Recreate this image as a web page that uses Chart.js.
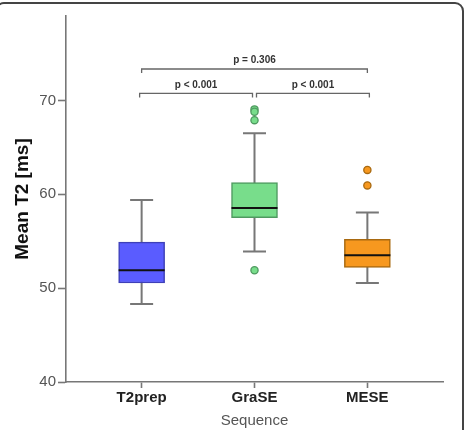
<!DOCTYPE html>
<html>
<head>
<meta charset="utf-8">
<script src="https://cdn.jsdelivr.net/npm/chart.js@4"></script>
<style>
  body { margin: 0; background: #fff; }
  #wrap { position: relative; width: 467px; height: 430px; overflow: hidden; }
  #frame { position: absolute; left: -5px; top: 2px; width: 465px; height: 500px;
           border: 2px solid #444; border-radius: 9px; pointer-events: none; }
  canvas { position: absolute; left: 0; top: 0; }
</style>
</head>
<body>
<div id="wrap">
  <div id="frame"></div>
  <canvas id="boxChart" width="467" height="430"></canvas>
</div>
<script>
// Box plot values
const categories = ['T2prep', 'GraSE', 'MESE'];
const whiskerLow = [48.3, 53.9, 50.55];
const quartile1 = [50.55, 57.5, 52.2];
const medians = [51.9, 58.55, 53.5];
const quartile3 = [54.9, 61.25, 55.2];
const whiskerHigh = [59.4, 66.5, 58.05];
const outliers = [
    [],
    [69.05, 68.8, 67.9, 51.9],
    [62.6, 60.95]
];
const yTicks = [40, 50, 60, 70];

// significance brackets (category index pairs)
const bracketPairs = [[0, 1], [1, 2], [0, 2]];
const bracketLevels = [70.75, 70.75, 73.35];
const bracketLabels = ['p < 0.001', 'p < 0.001', 'p = 0.306'];

const fills = ['#5a5cff', '#78dd8b', '#f7981f'];
const edges = ['#3e40b8', '#4f9a60', '#a86910'];
const FONT = "'Liberation Sans', Arial, sans-serif";

// whiskers + caps go under the boxes, medians on top
const boxParts = {
    id: 'boxParts',
    beforeDatasetsDraw(chart) {
        const {ctx, scales: {x, y}} = chart;
        ctx.save();
        ctx.strokeStyle = '#777';
        ctx.lineWidth = 2;
        categories.forEach((c, i) => {
            const px = x.getPixelForValue(i + 1);
            ctx.beginPath();
            ctx.moveTo(px, y.getPixelForValue(whiskerLow[i]));
            ctx.lineTo(px, y.getPixelForValue(whiskerHigh[i]));
            [whiskerLow[i], whiskerHigh[i]].forEach(v => {
                const py = y.getPixelForValue(v);
                ctx.moveTo(px - 11.5, py);
                ctx.lineTo(px + 11.5, py);
            });
            ctx.stroke();
        });
        ctx.restore();
    },
    afterDatasetDraw(chart, args) {
        if (args.index !== 0) return;
        const {ctx, scales: {x, y}} = chart;
        ctx.save();
        ctx.strokeStyle = '#111';
        ctx.lineWidth = 2;
        categories.forEach((c, i) => {
            const px = x.getPixelForValue(i + 1);
            const py = y.getPixelForValue(medians[i]);
            ctx.beginPath();
            ctx.moveTo(px - 23, py);
            ctx.lineTo(px + 23, py);
            ctx.stroke();
        });
        ctx.restore();
    }
};

const brackets = {
    id: 'brackets',
    afterDraw(chart) {
        const {ctx, scales: {x, y}} = chart;
        ctx.save();
        ctx.strokeStyle = '#666';
        ctx.lineWidth = 1.3;
        ctx.fillStyle = '#333';
        ctx.font = 'bold 10px ' + FONT;
        ctx.textAlign = 'center';
        ctx.textBaseline = 'middle';
        bracketPairs.forEach((pair, k) => {
            let x0 = x.getPixelForValue(pair[0] + 1);
            let x1 = x.getPixelForValue(pair[1] + 1);
            // adjacent brackets leave a small gap at the middle box
            if (pair[1] - pair[0] === 1) {
                x0 += pair[0] === 0 ? -2 : 2;
                x1 += pair[0] === 0 ? -2 : 2;
            }
            const py = y.getPixelForValue(bracketLevels[k]);
            ctx.beginPath();
            ctx.moveTo(x0, py + 4);
            ctx.lineTo(x0, py);
            ctx.lineTo(x1, py);
            ctx.lineTo(x1, py + 4);
            ctx.stroke();
            ctx.fillText(bracketLabels[k], (x0 + x1) / 2, py - 8.5);
        });
        ctx.restore();
    }
};

const outlierSets = outliers.map((vals, i) => ({
    type: 'scatter',
    data: vals.map(v => ({x: i + 1, y: v})),
    backgroundColor: fills[i],
    borderColor: edges[i],
    borderWidth: 1.3,
    pointRadius: 3.6,
    order: 0
}));

const ctx = document.getElementById('boxChart').getContext('2d');
const boxChart = new Chart(ctx, {
    type: 'bar',
    data: {
        datasets: [
            {
                type: 'bar',
                data: categories.map((c, i) => ({x: i + 1, y: [quartile1[i], quartile3[i]]})),
                backgroundColor: fills,
                borderColor: edges,
                borderWidth: 1.5,
                borderSkipped: false,
                barThickness: 46,
                order: 1
            },
            ...outlierSets
        ]
    },
    options: {
        responsive: false,
        animation: false,
        layout: {padding: {left: 0, top: 16, right: 24, bottom: 0}},
        plugins: {legend: {display: false}, tooltip: {enabled: false}},
        scales: {
            x: {
                type: 'linear',
                min: 0.33,
                max: 3.67,
                offset: false,
                afterBuildTicks: s => { s.ticks = categories.map((c, i) => ({value: i + 1})); },
                afterFit: s => { s.height = 48; },
                border: {color: '#777', width: 1.6},
                grid: {drawOnChartArea: false, offset: false, tickLength: 6, color: '#777', tickWidth: 1.6},
                ticks: {
                    padding: 1,
                    color: '#222',
                    font: {family: FONT, size: 15, weight: 'bold'},
                    callback: v => categories[v - 1]
                },
                title: {
                    display: true, text: 'Sequence', color: '#555',
                    font: {family: FONT, size: 15}, padding: {top: 0, bottom: 0}
                }
            },
            y: {
                min: 40,
                max: 79,
                afterBuildTicks: s => { s.ticks = yTicks.map(v => ({value: v})); },
                afterFit: s => { s.width = 66; },
                border: {color: '#777', width: 1.6},
                grid: {drawOnChartArea: false, tickLength: 8, color: '#777', tickWidth: 1.6},
                ticks: {padding: 2, color: '#555', font: {family: FONT, size: 15}},
                title: {
                    display: true, text: 'Mean T2 [ms]', color: '#111',
                    font: {family: FONT, size: 19, weight: 'bold'}, padding: {top: 11, bottom: 0}
                }
            }
        }
    },
    plugins: [boxParts, brackets]
});
</script>
</body>
</html>
